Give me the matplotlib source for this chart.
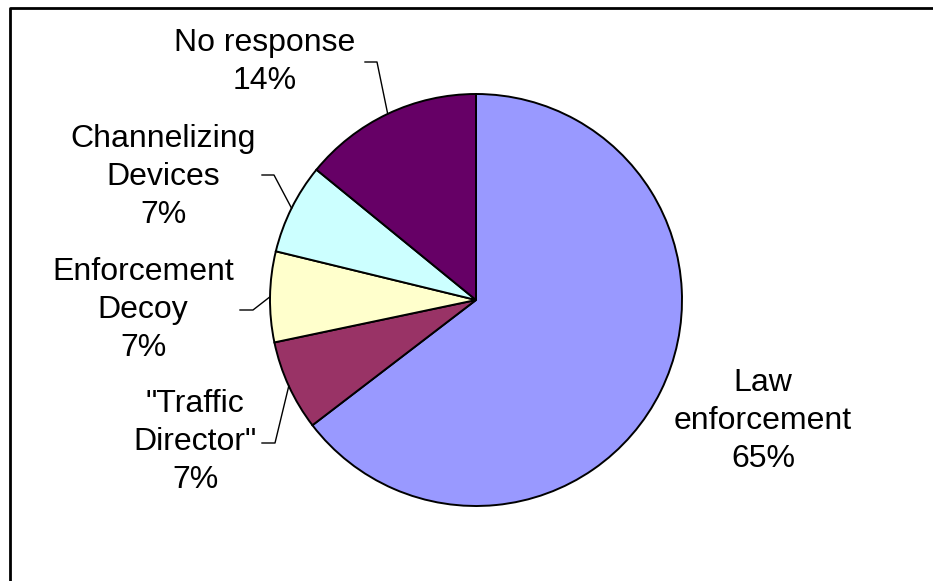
import numpy as np
import matplotlib
matplotlib.use("Agg")
import matplotlib.pyplot as plt
from matplotlib.lines import Line2D

categories = ["Law\nenforcement", "\"Traffic\nDirector\"", "Enforcement\nDecoy",
              "Channelizing\nDevices", "No response"]
values = [64.6, 7.1, 7.1, 7.1, 14.1]
colors = ["#9999FF", "#993366", "#FFFFCC", "#CCFFFF", "#660066"]

W, H = 933, 581
fig = plt.figure(figsize=(W / 100, H / 100), dpi=100)
ax = fig.add_axes([0, 0, 1, 1])
ax.set_xlim(0, W)
ax.set_ylim(0, H)
ax.set_aspect("equal")
ax.axis("off")

cx, cy, R = 476, H - 300, 206
wedges, _ = ax.pie(values, colors=colors, startangle=90, counterclock=False,
                   center=(cx, cy), radius=R, frame=True,
                   wedgeprops=dict(edgecolor="black", linewidth=1.4))
ax.set_xlim(0, W)
ax.set_ylim(0, H)
ax.axis("off")

total = sum(values)
pcts = [f"{int(v / total * 100 + 0.5)}%" for v in values]

# label centre positions (pixels from top-left) and leader elbows
label_pos = [(763, 421), (195, 442), (143, 310), (163, 177), (265, 62)]
leaders = {1: ((262, 443), (275, 443)),
           2: ((240, 310), (253, 310)),
           3: ((262, 175), (274, 175)),
           4: ((365, 62), (377, 62))}

font = dict(family=["Liberation Sans", "DejaVu Sans"], fontsize=23)
for i, (lab, pct) in enumerate(zip(categories, pcts)):
    x, y = label_pos[i]
    ax.text(x, H - y, f"{lab}\n{pct}", ha="center", va="center",
            linespacing=1.35, **font)
    if i in leaders:
        w = wedges[i]
        mid = np.deg2rad((w.theta1 + w.theta2) / 2)
        ex, ey = cx + R * np.cos(mid), cy + R * np.sin(mid)
        (x0, y0), (x1, y1) = leaders[i]
        ax.add_line(Line2D([x0, x1, ex], [H - y0, H - y1, ey],
                           color="black", linewidth=1.0))

# outer frame (only left and top visible)
fig.add_artist(Line2D([9.5 / W, 9.5 / W, 1.01], [-0.01, 1 - 7.5 / H, 1 - 7.5 / H],
                      transform=fig.transFigure, color="black", linewidth=2.0))

fig.savefig("out.png", dpi=100)
